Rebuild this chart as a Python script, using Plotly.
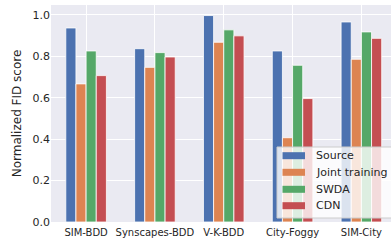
import plotly.graph_objects as go

categories = ["SIM-BDD", "Synscapes-BDD", "V-K-BDD", "City-Foggy", "SIM-City"]
series_names = ["Source", "Joint training", "SWDA", "CDN"]
source = [0.937, 0.837, 0.997, 0.826, 0.966]
joint = [0.667, 0.747, 0.868, 0.407, 0.786]
swda = [0.826, 0.818, 0.928, 0.757, 0.918]
cdn = [0.707, 0.797, 0.899, 0.596, 0.887]
colors = ["#4C72B0", "#DD8452", "#55A868", "#C44E52"]
y_ticks = [0.0, 0.2, 0.4, 0.6, 0.8, 1.0]

W, H = 391, 241
L, R, T, B = 51, 0, 5, 19
pw, ph = W - L - R, H - T - B


def px_x(x):
    return (x - L) / pw


def px_y(y):
    return (H - B - y) / ph


fig = go.Figure()
for name, vals, c in zip(series_names, [source, joint, swda, cdn], colors):
    fig.add_trace(go.Bar(
        x=list(range(len(categories))), y=vals, name=name,
        marker=dict(color=c, line=dict(color="white", width=0.8)),
        showlegend=False,
    ))

# legend drawn manually (box, swatches, labels)
shapes = [dict(type="rect", xref="paper", yref="paper",
               x0=px_x(277), x1=px_x(400), y0=px_y(218), y1=px_y(147),
               fillcolor="rgba(255,255,255,0.8)", line=dict(color="#CCCCCC", width=1),
               layer="above")]
annotations = []
row_y = [155.7, 172.3, 189.3, 205.7]
for name, c, ry in zip(series_names, colors, row_y):
    shapes.append(dict(type="rect", xref="paper", yref="paper",
                       x0=px_x(282.5), x1=px_x(305), y0=px_y(ry + 3.5), y1=px_y(ry - 3.5),
                       fillcolor=c, line=dict(width=0), layer="above"))
    annotations.append(dict(text=name, xref="paper", yref="paper",
                            x=px_x(314), y=px_y(ry), xanchor="left", yanchor="middle",
                            showarrow=False, font=dict(size=11, color="#262626")))

fig.update_layout(
    width=W, height=H,
    margin=dict(l=L, r=R, t=T, b=B),
    paper_bgcolor="white", plot_bgcolor="#EAEAF2",
    barmode="group", bargap=0.41, bargroupgap=0,
    font=dict(family="DejaVu Sans", color="#262626", size=11),
    showlegend=False,
    shapes=shapes, annotations=annotations,
)
fig.update_xaxes(
    range=[-0.51, 4.43], tickmode="array", tickvals=list(range(len(categories))),
    ticktext=categories, tickfont=dict(size=10), showgrid=True, gridcolor="white",
    gridwidth=1, zeroline=False, ticks="", showline=False, automargin=False,
    ticklabelstandoff=3,
)
fig.update_yaxes(
    range=[0, 1.048], tickmode="array", tickvals=y_ticks,
    ticktext=[f"{v:.1f}" for v in y_ticks], tickfont=dict(size=11),
    showgrid=True, gridcolor="white", gridwidth=1, zeroline=False, ticks="",
    automargin=False,
    title=dict(text="Normalized FID score", font=dict(size=12), standoff=8),
)
fig.write_html(
    "out.html",
    config={"displayModeBar": False},
    post_script="document.body.style.margin='0';document.body.style.overflow='hidden';",
)
